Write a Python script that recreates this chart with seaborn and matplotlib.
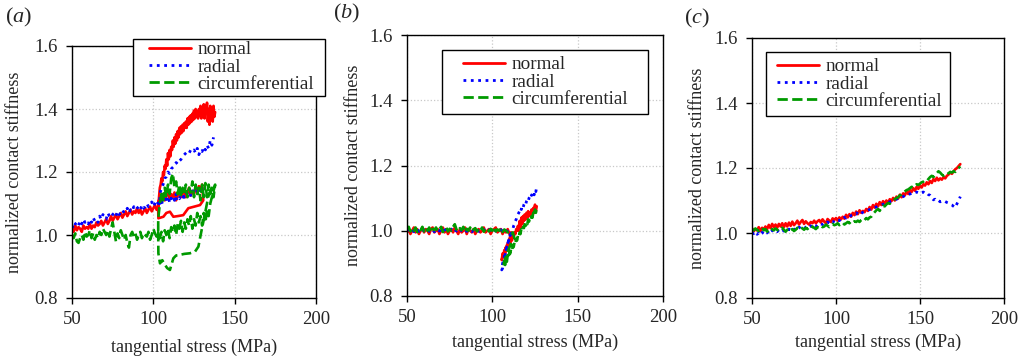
import numpy as np
import pandas as pd
import matplotlib
matplotlib.use("Agg")
import matplotlib.pyplot as plt
from matplotlib.patches import Rectangle
import seaborn as sns

sns.set_style("ticks")
plt.rcParams["font.family"] = ["Liberation Serif", "DejaVu Serif"]
plt.rcParams["mathtext.fontset"] = "custom"
plt.rcParams["mathtext.rm"] = "Liberation Serif"
plt.rcParams["mathtext.it"] = "Liberation Serif:italic"

# ---------------- data ----------------
SERIES = ["normal", "radial", "circumferential"]
PANELS = ["a", "b", "c"]
X_TICKS = [50, 100, 150, 200]
Y_TICKS = [0.8, 1.0, 1.2, 1.4, 1.6]

# panel (a) -- normal
a_normal_load1 = [1.02, 1.01, 1.03, 1.015, 1.025, 1.02, 1.01, 1.03, 1.02, 1.025, 1.02, 1.035, 1.02, 1.03,
                  1.025, 1.04, 1.03, 1.035, 1.045, 1.03, 1.04, 1.05, 1.035, 1.045, 1.06, 1.045, 1.055, 1.065,
                  1.05, 1.06, 1.07, 1.055, 1.065, 1.075, 1.06, 1.07, 1.08, 1.065, 1.075, 1.07, 1.085, 1.07,
                  1.08, 1.065, 1.075, 1.085, 1.07, 1.08, 1.09, 1.075, 1.085, 1.095, 1.08, 1.09]
a_normal_band = [1.10, 1.12, 1.105, 1.13, 1.11, 1.125, 1.14, 1.115, 1.13, 1.12, 1.135, 1.11, 1.125, 1.14,
                 1.12, 1.13, 1.145, 1.12, 1.135, 1.15, 1.125, 1.14, 1.13, 1.15, 1.135, 1.155, 1.14, 1.16]
a_normal_unload_x = [130.7, 128.7, 125.0, 121.5, 118.4, 115.0, 112.3, 110.2, 108.0, 106.2, 103.1]
a_normal_unload_y = [1.11, 1.095, 1.09, 1.085, 1.063, 1.06, 1.058, 1.074, 1.07, 1.058, 1.053]
a_normal_reload = [1.08, 1.12, 1.15, 1.16, 1.18, 1.17, 1.20, 1.19, 1.22, 1.21, 1.24, 1.22, 1.26, 1.24,
                   1.27, 1.25, 1.28, 1.27, 1.30, 1.28, 1.31, 1.29, 1.32, 1.30, 1.33, 1.31, 1.34, 1.32,
                   1.345, 1.325, 1.35, 1.33, 1.355, 1.34, 1.36, 1.34, 1.37, 1.35, 1.375, 1.355, 1.38,
                   1.36, 1.385, 1.365, 1.395, 1.37, 1.40, 1.375, 1.39, 1.37, 1.40, 1.38, 1.41, 1.37,
                   1.40, 1.38, 1.415, 1.37, 1.41, 1.39, 1.42, 1.36, 1.40, 1.35, 1.41, 1.37, 1.40, 1.36,
                   1.41, 1.375, 1.39]

# panel (a) -- radial
a_radial_load1 = [1.03, 1.02, 1.035, 1.04, 1.03, 1.045, 1.035, 1.05, 1.04, 1.045, 1.035, 1.05, 1.04, 1.055,
                  1.045, 1.05, 1.04, 1.06, 1.05, 1.065, 1.055, 1.05, 1.07, 1.06, 1.055, 1.065, 1.07, 1.06,
                  1.075, 1.065, 1.07, 1.08, 1.07, 1.075, 1.085, 1.07, 1.08, 1.075, 1.09, 1.08, 1.085, 1.09,
                  1.08, 1.095, 1.085, 1.09, 1.10, 1.09, 1.095, 1.105, 1.09, 1.10, 1.11, 1.10]
a_radial_band = [1.11, 1.10, 1.12, 1.11, 1.105, 1.125, 1.11, 1.12, 1.115, 1.125, 1.11, 1.13, 1.12, 1.115,
                 1.13, 1.125, 1.12, 1.135, 1.13, 1.125, 1.14, 1.13, 1.145, 1.135, 1.14, 1.15, 1.14, 1.155]
a_radial_unload_x = [130, 126, 122, 118, 114, 110, 106, 104]
a_radial_unload_y = [1.14, 1.13, 1.125, 1.12, 1.115, 1.11, 1.105, 1.10]
a_radial_reload = [1.13, 1.15, 1.16, 1.18, 1.185, 1.20, 1.195, 1.21, 1.215, 1.22, 1.23, 1.225, 1.235, 1.24,
                   1.25, 1.255, 1.26, 1.265, 1.26, 1.27, 1.265, 1.27, 1.26, 1.275, 1.255, 1.27, 1.265,
                   1.28, 1.27, 1.285, 1.275, 1.30, 1.285, 1.31]

# panel (a) -- circumferential
a_circ_load1 = [1.00, 0.99, 1.005, 0.98, 0.975, 0.99, 1.00, 0.985, 1.01, 0.995, 1.00, 1.015, 0.99, 1.005,
                0.985, 1.00, 0.99, 1.01, 1.00, 1.02, 1.01, 1.00, 1.015, 0.995, 1.02, 1.04, 1.01, 0.98,
                1.005, 0.99, 1.015, 1.00, 0.985, 1.00, 0.975, 0.96, 1.00, 1.01, 0.995, 1.005, 0.985, 1.00,
                1.01, 0.99, 1.005, 1.00, 0.995, 1.01, 0.985, 1.00, 1.02, 1.005, 0.995, 1.01]
a_circ_band = [1.05, 1.10, 1.13, 1.11, 1.15, 1.12, 1.16, 1.13, 1.18, 1.195, 1.15, 1.17, 1.13, 1.16, 1.12,
               1.15, 1.13, 1.16, 1.12, 1.15, 1.135, 1.17, 1.12, 1.16, 1.13, 1.15, 1.11, 1.16, 1.12, 1.165,
               1.12, 1.16, 1.13, 1.15, 1.12, 1.16]
a_circ_unload = [1.10, 1.06, 1.08, 1.04, 1.07, 1.03, 1.06, 1.04, 1.07, 1.03, 1.05, 1.02, 1.06, 1.03, 1.05,
                 1.02, 1.04, 1.01, 1.045, 1.02, 1.035, 1.00, 1.03, 1.01, 1.025, 0.99, 1.02, 1.00, 1.015,
                 0.98, 1.01, 0.99, 1.01]
a_circ_reload_x = [103.0, 103.1, 104.1, 105.5, 107.2, 108.5, 110.2, 112.3, 114.0, 116.4, 119.0, 122.5,
                   125.6, 127.7, 129.7, 131.8, 133.8, 135.0, 136.0]
a_circ_reload_y = [1.01, 0.942, 0.91, 0.92, 0.905, 0.895, 0.889, 0.926, 0.935, 0.937, 0.94, 0.942, 0.947,
                   0.963, 1.016, 1.069, 1.122, 1.14, 1.15]

# panel (b)
b_normal_flat = [0.995, 1.005, 0.99, 1.00, 1.01, 0.995, 1.005, 0.99, 1.00, 1.01, 0.995, 1.005, 1.00, 0.99,
                 1.005, 1.01, 0.995, 1.00, 1.005, 0.99, 1.00, 1.01, 0.995, 1.005, 0.99, 1.00, 1.005, 0.995,
                 1.01, 1.00, 0.99, 1.005, 0.995, 1.00, 1.01, 0.99, 1.005, 1.00, 0.995, 1.005, 0.99, 1.00,
                 1.005, 0.995, 1.00, 1.01, 0.995, 1.00, 1.005, 0.99, 1.00, 1.005, 1.01, 0.995, 1.00, 1.005,
                 0.99, 1.00, 0.995, 1.005, 0.99, 0.995]
b_normal_drop_x = [111, 110, 108.5, 107, 106, 105.5]
b_normal_drop_y = [0.99, 0.975, 0.955, 0.935, 0.92, 0.91]
b_normal_rise = [0.91, 0.93, 0.92, 0.94, 0.93, 0.95, 0.94, 0.955, 0.95, 0.965, 0.96, 0.975, 0.97, 0.985,
                 0.98, 0.995, 0.99, 1.005, 1.00, 1.015, 1.00, 1.03, 1.01, 1.04, 1.02, 1.045, 1.03, 1.05,
                 1.035, 1.055, 1.04, 1.06, 1.045, 1.055, 1.05, 1.065, 1.05, 1.07, 1.055, 1.08, 1.06, 1.075]
b_radial_flat = [1.00, 1.004, 0.998, 1.003, 0.997, 1.002, 1.005, 0.998, 1.002, 0.996, 1.003, 1.0, 1.005,
                 0.998, 1.002, 1.004, 0.997, 1.001, 1.005, 0.999, 1.003, 0.997, 1.002, 1.004, 0.998, 1.001,
                 1.005, 0.998, 1.003, 0.999, 1.002, 0.996, 1.003, 1.001, 1.005, 0.998, 1.002, 1.0, 0.997,
                 1.003, 1.0, 1.004, 0.998, 1.002, 0.999, 1.004, 0.998, 1.001, 1.003, 0.997, 1.001, 1.004,
                 0.999, 1.002, 0.998, 1.003, 1.0, 0.997, 1.001, 0.998, 0.999, 0.995]
b_radial_drop_x = [111, 110, 109, 108, 107, 106, 105.5]
b_radial_drop_y = [0.995, 0.98, 0.96, 0.94, 0.92, 0.90, 0.88]
b_radial_rise = [0.88, 0.885, 0.90, 0.91, 0.925, 0.935, 0.95, 0.955, 0.97, 0.975, 0.985, 0.99, 1.00,
                 1.005, 1.015, 1.02, 1.03, 1.035, 1.045, 1.05, 1.055, 1.06, 1.07, 1.065, 1.075, 1.07,
                 1.08, 1.085, 1.08, 1.09, 1.095, 1.09, 1.10, 1.105, 1.10, 1.11, 1.105, 1.115, 1.11,
                 1.125, 1.12, 1.135]
b_circ_flat = [1.005, 1.012, 0.998, 1.008, 1.0, 1.01, 0.996, 1.006, 1.002, 1.012, 0.998, 1.008, 1.0,
               1.01, 0.995, 1.006, 1.002, 1.01, 0.998, 1.005, 1.012, 0.996, 1.004, 1.01, 0.998, 1.006,
               1.0, 1.012, 1.02, 1.004, 0.998, 1.008, 1.002, 1.012, 0.996, 1.006, 1.0, 1.01, 0.998, 1.004,
               1.008, 0.998, 1.006, 1.0, 1.01, 0.997, 1.004, 1.008, 0.998, 1.006, 1.0, 1.012, 0.998,
               1.004, 1.0, 1.008, 0.996, 1.004, 1.0, 0.995, 1.0, 0.992, 0.995]
b_circ_dip_x = [112, 113, 112, 110.5, 108.5, 107, 106.5]
b_circ_dip_y = [0.995, 0.975, 0.97, 0.955, 0.93, 0.905, 0.89]
b_circ_rise = [0.89, 0.905, 0.895, 0.915, 0.905, 0.925, 0.915, 0.935, 0.93, 0.945, 0.94, 0.955, 0.95,
               0.965, 0.96, 0.975, 0.97, 0.985, 0.98, 0.995, 0.99, 1.005, 1.0, 1.012, 1.008, 1.02, 1.015,
               1.025, 1.02, 1.035, 1.028, 1.04, 1.035, 1.045, 1.04, 1.055, 1.048, 1.065, 1.055, 1.068]

# panel (c), one reading per MPa from 50 to 174
c_normal = [1.015, 1.005, 1.012, 1.008, 1.018, 1.006, 1.016, 1.01, 1.02, 1.012,
            1.025, 1.015, 1.028, 1.018, 1.026, 1.016, 1.028, 1.02, 1.03, 1.018,
            1.03, 1.02, 1.032, 1.022, 1.035, 1.024, 1.03, 1.038, 1.026, 1.034,
            1.04, 1.028, 1.036, 1.03, 1.026, 1.034, 1.03, 1.038, 1.03, 1.036,
            1.04, 1.032, 1.042, 1.035, 1.03, 1.043, 1.038, 1.034, 1.045, 1.04,
            1.046, 1.038, 1.048, 1.042, 1.05, 1.044, 1.056, 1.048, 1.058, 1.05,
            1.062, 1.055, 1.066, 1.058, 1.07, 1.062, 1.068, 1.064, 1.074, 1.068,
            1.08, 1.072, 1.086, 1.078, 1.09, 1.082, 1.095, 1.086, 1.098, 1.09,
            1.10, 1.092, 1.104, 1.098, 1.108, 1.10, 1.112, 1.106, 1.118, 1.11,
            1.122, 1.116, 1.128, 1.12, 1.132, 1.126, 1.138, 1.13, 1.142, 1.136,
            1.146, 1.14, 1.15, 1.146, 1.156, 1.15, 1.16, 1.154, 1.166, 1.16,
            1.17, 1.162, 1.168, 1.164, 1.172, 1.168, 1.176, 1.18, 1.186, 1.182,
            1.19, 1.196, 1.20, 1.206, 1.212]
c_radial = [1.002, 0.998, 1.004, 0.996, 1.0, 0.994, 1.002, 0.998, 1.004, 1.0,
            1.006, 1.0, 1.008, 1.002, 1.006, 1.004, 1.01, 1.004, 1.008, 1.006,
            1.01, 1.006, 1.012, 1.008, 1.014, 1.01, 1.016, 1.012, 1.018, 1.014,
            1.016, 1.012, 1.018, 1.02, 1.016, 1.022, 1.018, 1.024, 1.02, 1.026,
            1.024, 1.028, 1.026, 1.03, 1.028, 1.034, 1.03, 1.036, 1.032, 1.038,
            1.036, 1.04, 1.038, 1.044, 1.042, 1.048, 1.046, 1.052, 1.05, 1.054,
            1.056, 1.06, 1.058, 1.066, 1.062, 1.06, 1.064, 1.066, 1.068, 1.07,
            1.072, 1.074, 1.076, 1.078, 1.08, 1.082, 1.084, 1.086, 1.088, 1.09,
            1.092, 1.094, 1.096, 1.098, 1.10, 1.102, 1.104, 1.106, 1.108, 1.11,
            1.112, 1.115, 1.114, 1.118, 1.12, 1.122, 1.12, 1.124, 1.126, 1.124,
            1.128, 1.125, 1.126, 1.122, 1.124, 1.118, 1.116, 1.11, 1.102, 1.104,
            1.098, 1.10, 1.096, 1.098, 1.095, 1.097, 1.094, 1.092, 1.088, 1.086,
            1.082, 1.078, 1.09, 1.10, 1.112]
c_circ = [1.012, 1.008, 1.014, 1.01, 1.006, 1.012, 1.016, 1.008, 1.012, 1.004,
          1.01, 1.006, 1.012, 1.008, 1.014, 1.01, 1.006, 1.012, 1.016, 1.01,
          1.004, 1.01, 1.014, 1.008, 1.012, 1.006, 1.01, 1.016, 1.012, 1.018,
          1.014, 1.01, 1.016, 1.012, 1.018, 1.014, 1.02, 1.016, 1.012, 1.018,
          1.016, 1.022, 1.018, 1.02, 1.026, 1.022, 1.018, 1.024, 1.028, 1.024,
          1.026, 1.03, 1.024, 1.028, 1.032, 1.026, 1.03, 1.034, 1.03, 1.036,
          1.032, 1.036, 1.034, 1.038, 1.034, 1.04, 1.044, 1.04, 1.046, 1.042,
          1.048, 1.05, 1.058, 1.064, 1.07, 1.074, 1.068, 1.078, 1.084, 1.082,
          1.088, 1.092, 1.09, 1.096, 1.10, 1.104, 1.108, 1.11, 1.116, 1.118,
          1.124, 1.128, 1.132, 1.134, 1.138, 1.142, 1.14, 1.146, 1.15, 1.148,
          1.152, 1.156, 1.158, 1.162, 1.16, 1.166, 1.172, 1.176, 1.172, 1.18,
          1.184, 1.19, 1.186, 1.18, 1.176, 1.182, 1.18, 1.184, 1.188, 1.186,
          1.19, 1.188, 1.194, 1.20, 1.205]


def reg(x0, x1, ys):
    """readings taken at a regular stress step between x0 and x1"""
    return list(np.linspace(x0, x1, len(ys))), list(ys)


def path(*segs):
    xs, ys = [], []
    for sx, sy in segs:
        xs += list(sx)
        ys += list(sy)
    return xs, ys


panel_data = [
    {
        "normal": path(reg(50, 103, a_normal_load1), reg(103, 130, a_normal_band),
                       (a_normal_unload_x, a_normal_unload_y), reg(103, 138, a_normal_reload)),
        "radial": path(reg(50, 103, a_radial_load1), reg(103, 130, a_radial_band),
                       (a_radial_unload_x, a_radial_unload_y), reg(104, 137, a_radial_reload)),
        "circumferential": path(reg(50, 103, a_circ_load1), reg(103, 138, a_circ_band),
                                reg(135, 103, a_circ_unload), (a_circ_reload_x, a_circ_reload_y)),
    },
    {
        "normal": path(reg(50, 111, b_normal_flat), (b_normal_drop_x, b_normal_drop_y),
                       reg(105.5, 126, b_normal_rise)),
        "radial": path(reg(50, 111, b_radial_flat), (b_radial_drop_x, b_radial_drop_y),
                       reg(105.5, 126, b_radial_rise)),
        "circumferential": path(reg(50, 112, b_circ_flat), (b_circ_dip_x, b_circ_dip_y),
                                reg(106.5, 126, b_circ_rise)),
    },
    {
        "normal": reg(50, 174, c_normal),
        "radial": reg(50, 174, c_radial),
        "circumferential": reg(50, 174, c_circ),
    },
]

# ---------------- styling / layout ----------------
W, H = 1026, 358
STYLE = {
    "normal": dict(color="#ff0000", linestyle="-", lw=1.9),
    "radial": dict(color="#0000ff", linestyle=":", lw=2.0),
    "circumferential": dict(color="#009a00", linestyle="--", lw=1.9),
}
# axes boxes in pixels: left, right, top, bottom
AX_PX = [(72, 316, 46, 298), (407, 663, 35, 296), (752, 1004, 38, 298)]
YLAB_X = [15, 354, 697]
XLAB_Y = [347, 342, 342]
# legend frame (left, right, top, bottom), handle start x, middle-row y
LEG_BOX = [(133, 325, 39, 96), (442, 648, 50, 114), (766, 950, 52, 116)]
LEG_HANDLE = [(149, 67), (463, 82), (777, 84)]
PLAB = [(5, 17), (333, 13), (684, 18)]

fig = plt.figure(figsize=(W / 100, H / 100), dpi=100)

for i in range(3):
    l, r, t, b = AX_PX[i]
    ax = fig.add_axes([l / W, 1 - b / H, (r - l) / W, (b - t) / H])
    for name in SERIES:
        xs, ys = panel_data[i][name]
        df = pd.DataFrame({"x": xs, "y": ys})
        sns.lineplot(data=df, x="x", y="y", sort=False, estimator=None, ax=ax,
                     label=name, **STYLE[name])
    ax.set_xlim(50, 200)
    ax.set_ylim(0.8, 1.6)
    ax.set_xticks(X_TICKS)
    ax.set_yticks(Y_TICKS)
    ax.set_yticklabels([f"{v:.1f}" for v in Y_TICKS])
    ax.grid(True, color="#c8c8c8", linestyle=":", lw=0.9)
    ax.tick_params(direction="out", length=4.3, width=1, labelsize=13.5, color="black")
    ax.tick_params(axis="y", pad=6.0)
    ax.tick_params(axis="x", pad=5)
    for s in ax.spines.values():
        s.set_color("black")
        s.set_linewidth(1.0)
    ax.set_xlabel("tangential stress (MPa)", fontsize=13, va="center")
    ax.set_ylabel("normalized contact stiffness", fontsize=13, va="center")
    ax.yaxis.set_label_coords((YLAB_X[i] - l) / (r - l), 0.5)
    ax.xaxis.set_label_coords(0.5, (b - XLAB_Y[i]) / (b - t))

    # legend frame drawn as a white box over the axes
    bl, br, bt, bb = LEG_BOX[i]
    ax.add_patch(Rectangle((bl / W, 1 - bb / H), (br - bl) / W, (bb - bt) / H,
                           transform=fig.transFigure, facecolor="white", edgecolor="black",
                           lw=1.0, zorder=4.9, clip_on=False))
    hx, hy = LEG_HANDLE[i]
    leg = ax.legend(loc="center left", bbox_to_anchor=(hx / W, 1 - hy / H),
                    bbox_transform=fig.transFigure, fontsize=13.8, frameon=False,
                    borderpad=0, labelspacing=0.0, handlelength=2.2, handletextpad=0.33,
                    borderaxespad=0)
    for ln in leg.get_lines():
        ln.set_linewidth(2.0)

    px, py = PLAB[i]
    fig.text(px / W, 1 - py / H, "($\\mathit{" + PANELS[i] + "}$)", fontsize=16,
             ha="left", va="center")

fig.savefig("out.png", dpi=100)
